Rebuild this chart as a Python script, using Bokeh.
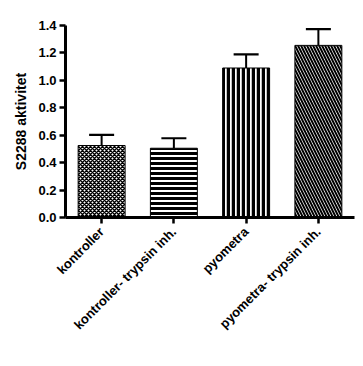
import math
from bokeh.plotting import figure
from bokeh.models import ColumnDataSource, Whisker, TeeHead, FixedTicker, NumeralTickFormatter, FactorRange, Range1d
from bokeh.embed import file_html
from bokeh.resources import INLINE

categories = ["kontroller", "kontroller- trypsin inh.", "pyometra", "pyometra- trypsin inh."]
values = [0.525, 0.505, 1.09, 1.255]
errors = [0.078, 0.073, 0.099, 0.118]
hatches = ["diagonal_cross", "horizontal_line", "vertical_line", "left_diagonal_line"]
hatch_scales = [4, 5, 5, 6]
hatch_weights = [1.5, 3, 3.5, 2.0]
y_ticks = [0.0, 0.2, 0.4, 0.6, 0.8, 1.0, 1.2, 1.4]

FONT = "Liberation Sans"

p = figure(x_range=FactorRange(*categories, range_padding=0), y_range=Range1d(0, 1.4),
           frame_width=289, frame_height=192,
           min_border_left=65, min_border_top=25, min_border_right=5, min_border_bottom=130,
           output_backend="svg", toolbar_location=None)
p.outline_line_color = None
p.grid.grid_line_color = None

for c, v, h, hs, hw in zip(categories, values, hatches, hatch_scales, hatch_weights):
    p.vbar(x=[c], top=[v], bottom=0, width=0.65, fill_color="white", line_color="black",
           line_width=1, hatch_pattern=h, hatch_color="black", hatch_scale=hs, hatch_weight=hw)

src = ColumnDataSource(dict(x=categories, base=values,
                            upper=[v + e for v, e in zip(values, errors)]))
w = Whisker(source=src, base="x", lower="base", upper="upper", dimension="height",
            line_color="black", line_width=2,
            upper_head=TeeHead(size=25, line_color="black", line_width=2.2),
            lower_head=None)
p.add_layout(w)

p.yaxis.ticker = FixedTicker(ticks=y_ticks)
p.yaxis.formatter = NumeralTickFormatter(format="0.0")
p.yaxis.minor_tick_line_color = None
p.yaxis.axis_label = "S2288 aktivitet"
p.yaxis.axis_label_text_font = FONT
p.yaxis.axis_label_text_font_size = "14px"
p.yaxis.axis_label_text_font_style = "bold"
p.yaxis.axis_label_text_color = "black"
p.yaxis.axis_label_standoff = 6

for ax in (p.xaxis, p.yaxis):
    ax.axis_line_width = 3
    ax.axis_line_color = "black"
    ax.major_tick_line_width = 2.5
    ax.major_tick_line_color = "black"
    ax.major_tick_in = 0
    ax.major_tick_out = 6
    ax.major_label_text_font = FONT
    ax.major_label_text_font_style = "bold"
    ax.major_label_text_font_size = "13px"
    ax.major_label_text_color = "black"
p.yaxis.major_label_standoff = 3
p.xaxis.major_label_orientation = math.pi / 4
p.xaxis.major_label_standoff = 6

open("out.html", "w").write(file_html(p, INLINE))
